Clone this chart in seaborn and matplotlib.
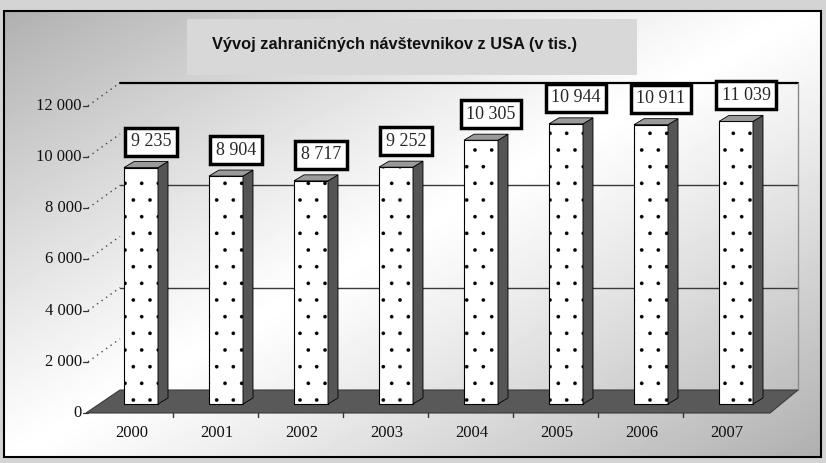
import numpy as np
import pandas as pd
import seaborn as sns
import matplotlib
matplotlib.use('Agg')
import matplotlib.pyplot as plt
from matplotlib.patches import Polygon, Rectangle

years = ['2000', '2001', '2002', '2003', '2004', '2005', '2006', '2007']
visitors = [9235, 8904, 8717, 9252, 10305, 10944, 10911, 11039]
y_ticks = [0, 2000, 4000, 6000, 8000, 10000, 12000]
wall_lines = [0, 4000, 8000, 12000]
title = 'Vývoj zahraničných návštevnikov z USA (v tis.)'


def fmt(v):
    return f'{v:,}'.replace(',', ' ')


sns.set_theme(style='white')
plt.rcParams['font.family'] = ['Liberation Sans', 'DejaVu Sans']

W, H = 826, 463
fig = plt.figure(figsize=(W / 100, H / 100), dpi=100)
fig.patch.set_facecolor('#d4d4d4')

# background in pixel coordinates: frame, gradient, title box
bg = fig.add_axes([0, 0, 1, 1])
bg.set_xlim(0, W)
bg.set_ylim(H, 0)
bg.set_axis_off()
xx, yy = np.meshgrid(np.linspace(0, 1, W), np.linspace(0, 1, H))
t = (xx + yy) / 2
grad = 1 - 0.32 * (np.abs(t - 0.5) * 2) ** 1.1
fx0, fy0, fx1, fy1 = 4, 11, 821, 457
bg.imshow(grad[fy0:fy1, fx0:fx1], cmap='gray', vmin=0, vmax=1,
          extent=(fx0, fx1, fy1, fy0), aspect='auto', zorder=0)
bg.add_patch(Rectangle((fx0, fy0), fx1 - fx0, fy1 - fy0, fill=False,
                       ec='black', lw=1.5, zorder=2))
bg.add_patch(Rectangle((187, 19), 450, 56, fc='#d8d8d8', ec='none', zorder=1))
bg.text(212, 45, title, ha='left', va='center', fontsize=11.8,
        fontweight='bold', color='#111111', zorder=3)

# main axes: pixel mapping for the pseudo 3D chart
X0PX, CATPX, Y0PX, K = 141, 85, 404, 0.0256
xlo, xhi, ylo, yhi = -0.8, 7.8, -1500, 13500
left = X0PX + xlo * CATPX
top = Y0PX - yhi * K
bottom = Y0PX - ylo * K
ax = fig.add_axes([left / W, (H - bottom) / H, (xhi - xlo) * CATPX / W,
                   (bottom - top) / H])
ax.patch.set_alpha(0)


def px(x_px):
    return (x_px - X0PX) / CATPX


def py(y_px):
    return (Y0PX - y_px) / K


df = pd.DataFrame({'rok': years, 'navstevnici': visitors})
plt.rcParams['hatch.linewidth'] = 0.2
sns.barplot(data=df, x='rok', y='navstevnici', color='white', width=0.4,
            edgecolor='black', linewidth=0.8, hatch='.', saturation=1,
            ax=ax, zorder=2)
ax.set_xlim(xlo, xhi)
ax.set_ylim(ylo, yhi)
ax.set_axis_off()

# floor
floor = Polygon([(px(86), py(413)), (px(770), py(413)),
                 (px(798), py(390)), (px(120), py(390))],
                closed=True, fc='#595959', ec='#3a3a3a', lw=0.8, zorder=0.5)
ax.add_patch(floor)

# back wall lines
back_dy = py(390)
front_dy = py(413)
for v in wall_lines[1:]:
    ax.plot([px(120), px(798)], [v + back_dy, v + back_dy],
            color='black' if v == max(wall_lines) else '#3a3a3a',
            lw=1.6 if v == max(wall_lines) else 1.0, zorder=0.4)
ax.plot([px(798), px(798)], [back_dy, max(wall_lines) + back_dy],
        color='#8a8a8a', lw=1.0, zorder=0.4)

# y labels with leader lines to the wall
for v in y_ticks:
    ax.text(px(82), v + front_dy, fmt(v), ha='right', va='center',
            fontsize=12, family=['Liberation Serif', 'DejaVu Serif'],
            color='#111111')
    ax.plot([px(83), px(88)], [v + front_dy, v + front_dy], color='#333333',
            lw=0.9)
    if v > 0:
        ax.plot([px(88), px(120)], [v + front_dy, v + back_dy], color='#444444',
                lw=1.0, ls=(0, (1, 3)))

# x labels and small ticks on the floor edge
for i, yr in enumerate(years):
    ax.text(i - 9 / CATPX, py(433), yr, ha='center', va='center', fontsize=12,
            family=['Liberation Serif', 'DejaVu Serif'], color='#111111')
    if i < len(years) - 1:
        bx = i + 0.5 - 11 / CATPX
        ax.plot([bx, bx], [front_dy, py(417)], color='#333333', lw=1.0)

# 3D sides, tops and value labels
ddx, ddy = 10 / CATPX, 6 / K
bars = [p for p in ax.patches if isinstance(p, Rectangle) and p.get_height() > 0]
for p, v in zip(bars, visitors):
    x, w, h = p.get_x(), p.get_width(), p.get_height()
    ax.add_patch(Polygon([(x + w, 0), (x + w + ddx, ddy), (x + w + ddx, h + ddy),
                          (x + w, h)], closed=True, fc='#555555', ec='black',
                         lw=0.6, zorder=2.1))
    ax.add_patch(Polygon([(x, h), (x + ddx, h + ddy), (x + w + ddx, h + ddy),
                          (x + w, h)], closed=True, fc='#9a9a9a', ec='black',
                         lw=0.6, zorder=2.1))
    ax.annotate(fmt(v), xy=(x + w / 2, h), xytext=(10, 26),
                textcoords='offset pixels', ha='center', va='center',
                fontsize=13, family=['Liberation Serif', 'DejaVu Serif'],
                bbox=dict(boxstyle='square,pad=0.3', fc='white', ec='black',
                          lw=2.5), zorder=5)

fig.savefig('out.png', dpi=100, facecolor=fig.get_facecolor())
